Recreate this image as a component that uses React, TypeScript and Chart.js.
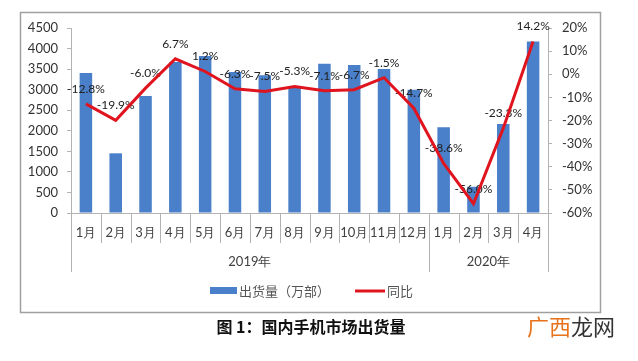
import React, { useEffect, useRef } from "react";
import { Chart, registerables } from "chart.js";

Chart.register(...registerables);

const months = ["1月", "2月", "3月", "4月", "5月", "6月", "7月", "8月", "9月", "10月", "11月", "12月", "1月", "2月", "3月", "4月"];
const yearLabels = ["2019年", "2020年"];
const yearSpans = [12, 4];
const shipments = [3406, 1452, 2847, 3670, 3820, 3430, 3350, 3080, 3630, 3600, 3500, 3000, 2084, 638, 2166, 4172];
const yoy = [-12.8, -19.9, -6.0, 6.7, 1.2, -6.3, -7.5, -5.3, -7.1, -6.7, -1.5, -14.7, -38.6, -56.0, -23.3, 14.2];
const seriesNames = ["出货量（万部）", "同比"];
const leftTicks = { min: 0, max: 4500, step: 500 };
const rightTicks = { min: -60, max: 20, step: 10 };
const titleText = "图 1：国内手机市场出货量";

const BAR = "#4a7fc9";
const RED = "#e0141f";
const AXIS = "#b3b3b3";
const NUMFONT = "Lato, 'Liberation Sans', sans-serif";
const CJK = "'Noto Sans CJK SC', sans-serif";

const decor = {
  id: "decor",
  afterDatasetDraw(chart: any, args: any) {
    if (args.index !== 0) return;
    const ctx = chart.ctx;
    const meta = chart.getDatasetMeta(1);
    ctx.save();
    ctx.font = "12px " + NUMFONT;
    ctx.fillStyle = "#222";
    ctx.textAlign = "center";
    ctx.textBaseline = "middle";
    meta.data.forEach((pt: any, i: number) => {
      ctx.fillText(yoy[i].toFixed(1) + "%", pt.x, pt.y - 15);
    });
    ctx.restore();
  },
  afterDraw(chart: any) {
    const ctx = chart.ctx;
    const xs = chart.scales.x;
    const n = months.length;
    const bottom = xs.bottom;
    const bounds: number[] = [];
    for (let i = 0; i <= n; i++) {
      if (i === 0) bounds.push(xs.left);
      else if (i === n) bounds.push(xs.right);
      else bounds.push((xs.getPixelForValue(i - 1) + xs.getPixelForValue(i)) / 2);
    }
    const yearStarts: number[] = [0];
    yearSpans.forEach((s, k) => yearStarts.push(yearStarts[k] + s));
    ctx.save();
    // outer frame
    ctx.strokeStyle = "#a0a0a0";
    ctx.lineWidth = 1.5;
    ctx.strokeRect(20.5, 12.5, 580, 300);

    ctx.strokeStyle = AXIS;
    ctx.lineWidth = 1;
    bounds.forEach((b, i) => {
      const long = yearStarts.includes(i);
      const x = Math.round(b) + 0.5;
      ctx.beginPath();
      ctx.moveTo(x, bottom);
      ctx.lineTo(x, bottom + (long ? 59 : 30));
      ctx.stroke();
    });
    ctx.fillStyle = "#404040";
    ctx.textAlign = "center";
    ctx.textBaseline = "middle";
    ctx.font = "13px " + NUMFONT;
    months.forEach((m, i) => {
      ctx.fillText(m, xs.getPixelForValue(i), bottom + 20);
    });
    yearLabels.forEach((y, k) => {
      const cx = (bounds[yearStarts[k]] + bounds[yearStarts[k + 1]]) / 2;
      ctx.fillText(y, cx, bottom + 49);
    });

    // legend
    const ly = 291;
    ctx.font = "13px " + CJK;
    ctx.fillStyle = chart.data.datasets[0].backgroundColor;
    ctx.fillRect(210, ly - 4, 27, 7);
    ctx.fillStyle = "#555";
    ctx.textAlign = "left";
    ctx.fillText(chart.data.datasets[0].label, 239, ly);
    ctx.strokeStyle = chart.data.datasets[1].borderColor;
    ctx.lineWidth = 3;
    ctx.beginPath();
    ctx.moveTo(355, ly);
    ctx.lineTo(385, ly);
    ctx.stroke();
    ctx.fillText(chart.data.datasets[1].label, 387, ly);

    // caption
    ctx.font = "bold 16px " + CJK;
    ctx.fillStyle = "#111";
    ctx.textAlign = "center";
    ctx.fillText(titleText, 311, 327);

    ctx.font = "22px " + CJK;
    ctx.textAlign = "left";
    ctx.fillStyle = "#e8731c";
    ctx.fillText("广西", 527, 327);
    const w = ctx.measureText("广西").width;
    ctx.fillStyle = "#333";
    ctx.fillText("龙网", 527 + w, 327);
    ctx.restore();
  },
};

export default function App() {
  const ref = useRef<HTMLCanvasElement>(null);
  useEffect(() => {
    if (!ref.current) return;
    const chart = new Chart(ref.current, {
      type: "bar",
      data: {
        labels: months,
        datasets: [
          {
            type: "bar",
            label: seriesNames[0],
            data: shipments,
            backgroundColor: BAR,
            yAxisID: "y",
            order: 2,
            barPercentage: 0.42,
            categoryPercentage: 1,
          },
          {
            type: "line",
            label: seriesNames[1],
            data: yoy,
            borderColor: RED,
            backgroundColor: RED,
            borderWidth: 3,
            pointRadius: 0,
            tension: 0,
            yAxisID: "y1",
            order: 1,
          } as any,
        ],
      },
      options: {
        responsive: false,
        animation: false,
        devicePixelRatio: 1,
        layout: { padding: { left: 0, right: 0, top: 28, bottom: 148 } },
        plugins: { legend: { display: false }, tooltip: { enabled: false } },
        scales: {
          x: {
            type: "category",
            offset: true,
            grid: { display: true, drawOnChartArea: false, drawTicks: false, offset: true },
            border: { display: true, color: AXIS },
            ticks: { display: false },
            afterFit: (s: any) => { s.height = 0; },
          },
          y: {
            position: "left",
            min: leftTicks.min,
            max: leftTicks.max,
            ticks: {
              stepSize: leftTicks.step,
              padding: 9,
              color: "#333",
              font: { family: NUMFONT, size: 13 },
              callback: (v: any) => String(v),
            },
            grid: { drawOnChartArea: false, drawTicks: true, tickLength: 4, color: AXIS },
            border: { display: true, color: AXIS },
            afterFit: (s: any) => { s.width = 71; },
          },
          y1: {
            position: "right",
            min: rightTicks.min,
            max: rightTicks.max,
            ticks: {
              stepSize: rightTicks.step,
              padding: 10,
              color: "#333",
              font: { family: NUMFONT, size: 13 },
              callback: (v: any) => v + "%",
            },
            grid: { drawOnChartArea: false, drawTicks: true, tickLength: 4, color: AXIS },
            border: { display: true, color: AXIS },
            afterFit: (s: any) => { s.width = 90; },
          },
        },
      } as any,
      plugins: [decor],
    });
    return () => chart.destroy();
  }, []);
  return (
    <div style={{ position: "fixed", left: 0, top: 0, width: 638, height: 361, background: "#fff" }}>
      <canvas ref={ref} width={638} height={361} style={{ width: 638, height: 361, display: "block" }} />
    </div>
  );
}
